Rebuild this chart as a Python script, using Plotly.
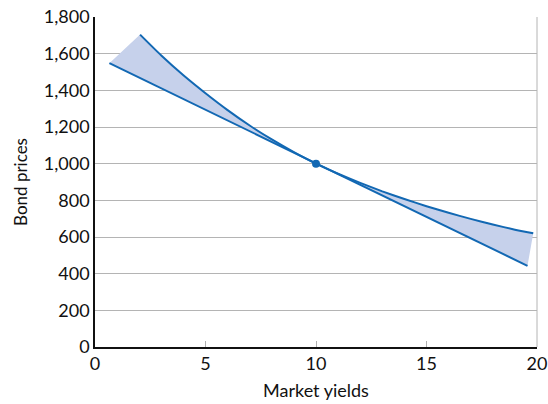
import plotly.graph_objects as go

# values
curve_yield = [2.04, 3, 4, 5, 6, 7, 8, 9, 10, 11, 12, 13, 14, 15, 16, 17, 18, 19, 19.83]
curve_price = [1704, 1590, 1482, 1384, 1292, 1208, 1132, 1063, 1000, 945, 895, 849, 807,
               768, 732, 699, 668, 640, 620]

tangent_yield = [0.65, 19.57]
tangent_price = [1548, 443]

point_yield = [10]
point_price = [1000]

x_ticks = [0, 5, 10, 15, 20]
y_ticks = [0, 200, 400, 600, 800, 1000, 1200, 1400, 1600, 1800]

blue = "#1268b3"
fill = "#c6d1eb"

fig = go.Figure()

# shaded area between the price curve and the tangent line
fig.add_trace(go.Scatter(
    x=curve_yield + tangent_yield[::-1],
    y=curve_price + tangent_price[::-1],
    fill="toself",
    fillcolor=fill,
    line=dict(width=0),
    mode="lines",
    hoverinfo="skip",
))

fig.add_trace(go.Scatter(x=tangent_yield, y=tangent_price, mode="lines",
                         line=dict(color=blue, width=2)))
fig.add_trace(go.Scatter(x=curve_yield, y=curve_price, mode="lines",
                         line=dict(color=blue, width=2, shape="spline", smoothing=0.5)))
fig.add_trace(go.Scatter(x=point_yield, y=point_price, mode="markers",
                         marker=dict(color=blue, size=8)))

font = "Lato, 'Open Sans', sans-serif"

fig.update_layout(
    width=548,
    height=404,
    showlegend=False,
    plot_bgcolor="white",
    paper_bgcolor="white",
    margin=dict(l=95, r=11, t=17, b=57),
    font=dict(family=font, size=18, color="#111111"),
)

fig.update_xaxes(
    range=[0, 20],
    tickvals=x_ticks,
    automargin=False,
    showgrid=False,
    zeroline=False,
    showline=True,
    linecolor="#111111",
    linewidth=1.5,
    ticks="inside",
    ticklen=6,
    tickcolor="#b0b0b0",
    tickwidth=1,
    title=dict(text="Market yields", font=dict(size=18), standoff=11),
)
fig.update_yaxes(
    range=[0, 1800],
    tickvals=y_ticks,
    tickformat=",",
    automargin=False,
    showgrid=True,
    gridcolor="#b4b4b4",
    gridwidth=1,
    zeroline=False,
    showline=True,
    linecolor="#111111",
    linewidth=1.5,
    ticks="",
    title=dict(text="Bond prices", font=dict(size=17), standoff=12),
)

# thin grey frame on the right side of the plot area
fig.add_shape(type="line", xref="paper", yref="paper", x0=1, x1=1, y0=0, y1=1,
              line=dict(color="#b4b4b4", width=1))

# drop the page's default body margin so the chart sits at the window's corner
fig.write_html("out.html", config={"displayModeBar": False},
               post_script="document.body.style.margin='0';")
